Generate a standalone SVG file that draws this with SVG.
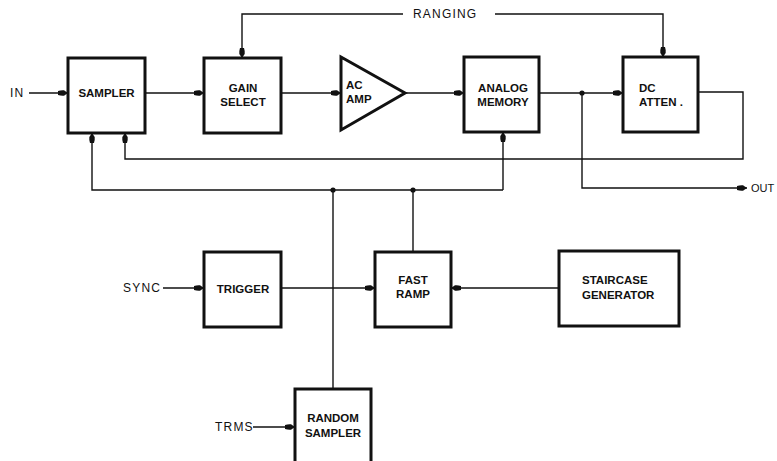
<svg xmlns="http://www.w3.org/2000/svg" width="777" height="461" viewBox="0 0 777 461">
<defs>
<style>
.box{fill:#fff;stroke:#111;stroke-width:3}
.ln{fill:none;stroke:#111;stroke-width:1.4}
text{font-family:"Liberation Sans",Arial,sans-serif;font-weight:bold;font-size:11.5px;fill:#111}
.c{text-anchor:middle}
.lb{font-weight:normal;font-size:12px;letter-spacing:1.2px}
</style>
<marker id="ar" viewBox="0 0 10 6" refX="10" refY="3" markerWidth="10" markerHeight="6" markerUnits="userSpaceOnUse" orient="auto">
<path d="M0,1 Q3,0 6,0.3 L10,3 L6,5.7 Q3,6 0,5 Z" fill="#111"/>
</marker>
</defs>
<rect width="777" height="461" fill="#fff"/>
<g id="connectors">
<path class="ln" d="M29,93 H68" marker-end="url(#ar)"/>
<path class="ln" d="M145,93 H204" marker-end="url(#ar)"/>
<path class="ln" d="M281,93 H341" marker-end="url(#ar)"/>
<path class="ln" d="M405,93 H464" marker-end="url(#ar)"/>
<path class="ln" d="M539,93 H623" marker-end="url(#ar)"/>
<path class="ln" d="M403,14 H242 V58" marker-end="url(#ar)"/>
<path class="ln" d="M495,14 H663 V57" marker-end="url(#ar)"/>
<path class="ln" d="M698,92 H743 V159 H125 V133" marker-end="url(#ar)"/>
<path class="ln" d="M582,93 V188 H747" marker-end="url(#ar)"/>
<path class="ln" d="M503,190 H92 V133" marker-end="url(#ar)"/>
<path class="ln" d="M503,190 V132" marker-end="url(#ar)"/>
<path class="ln" d="M333,190 V389"/>
<path class="ln" d="M413,190 V252"/>
<path class="ln" d="M163,288 H204" marker-end="url(#ar)"/>
<path class="ln" d="M281,288 H375" marker-end="url(#ar)"/>
<path class="ln" d="M559,288 H451" marker-end="url(#ar)"/>
<path class="ln" d="M253,427 H295" marker-end="url(#ar)"/>
<circle cx="582" cy="93" r="2.6" fill="#111"/>
<circle cx="333" cy="190" r="2.6" fill="#111"/>
<circle cx="413" cy="190" r="2.6" fill="#111"/>
</g>
<g id="labels">
<text class="lb" x="10" y="97">IN</text>
<text class="lb" x="413" y="18">RANGING</text>
<text class="lb" x="751" y="192" style="letter-spacing:0;font-size:11px">OUT</text>
<text class="lb" x="123" y="292">SYNC</text>
<text class="lb" x="215" y="431">TRMS</text>
</g>
<g id="sampler"><rect class="box" x="68" y="58" width="77" height="75"/><text class="c" x="106.5" y="97">SAMPLER</text></g>
<g id="gain-select"><rect class="box" x="204" y="58" width="77" height="75"/><text class="c" x="243" y="92">GAIN</text><text class="c" x="243" y="106">SELECT</text></g>
<g id="ac-amp"><path class="box" d="M341,57 L405,93 L341,130 Z"/><text x="346" y="89">AC</text><text x="346" y="103">AMP</text></g>
<g id="analog-memory"><rect class="box" x="464" y="57" width="75" height="75"/><text class="c" x="503" y="92">ANALOG</text><text class="c" x="503" y="106">MEMORY</text></g>
<g id="dc-atten"><rect class="box" x="623" y="57" width="75" height="75"/><text x="639" y="92">DC</text><text x="639" y="106">ATTEN .</text></g>
<g id="trigger"><rect class="box" x="204" y="252" width="77" height="75"/><text class="c" x="243" y="293">TRIGGER</text></g>
<g id="fast-ramp"><rect class="box" x="375" y="252" width="76" height="75"/><text class="c" x="413" y="284">FAST</text><text class="c" x="413" y="298">RAMP</text></g>
<g id="staircase-generator"><rect class="box" x="559" y="251" width="120" height="75"/><text x="582" y="284">STAIRCASE</text><text x="582" y="299">GENERATOR</text></g>
<g id="random-sampler"><rect class="box" x="295" y="389" width="76" height="80"/><text class="c" x="333" y="422">RANDOM</text><text class="c" x="333" y="437">SAMPLER</text></g>
</svg>
